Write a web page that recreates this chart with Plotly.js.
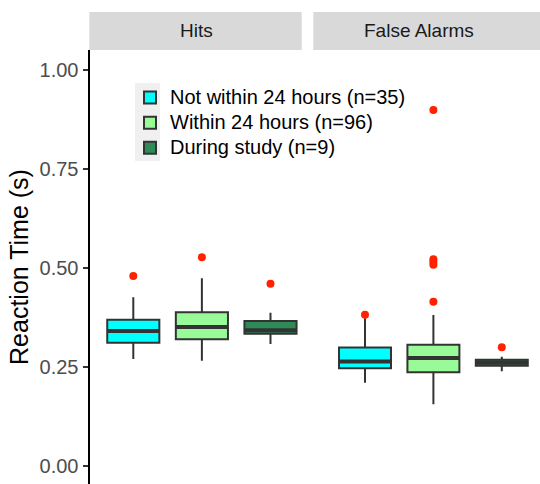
<!DOCTYPE html>
<html>
<head>
<meta charset="utf-8">
<script src="https://cdn.plot.ly/plotly-3.0.1.min.js"></script>
<style>html,body{margin:0;padding:0;background:#fff;}#chart{width:540px;height:484px;}</style>
</head>
<body>
<div id="chart"></div>
<script>
// ---- data ----
var groups = ["Not within 24 hours (n=35)", "Within 24 hours (n=96)", "During study (n=9)"];
var panels = ["Hits", "False Alarms"];
var yTicks = [0, 0.25, 0.5, 0.75, 1.0];
var yTickLabels = ["0.00", "0.25", "0.50", "0.75", "1.00"];

var hitsLower  = [0.270, 0.266, 0.308];
var hitsQ1     = [0.311, 0.320, 0.334];
var hitsMedian = [0.341, 0.351, 0.343];
var hitsQ3     = [0.369, 0.388, 0.366];
var hitsUpper  = [0.426, 0.474, 0.387];
var hitsOutliers = [[0.480], [0.527], [0.460]];

var faLower  = [0.210, 0.156, 0.239];
var faQ1     = [0.247, 0.237, 0.253];
var faMedian = [0.264, 0.273, 0.261];
var faQ3     = [0.299, 0.306, 0.268];
var faUpper  = [0.373, 0.381, 0.276];
var faOutliers = [[0.382], [0.899, 0.522, 0.515, 0.508, 0.415], [0.300]];

// ---- styling ----
var fills = ["#00FFFF", "#98FB98", "#2E8B57"];
var outline = "#333333";
var outlierColor = "#FF2200";
var boxW = 0.76;
var W = 540, H = 484, T = 50;
function px(x) { return x / W; }
function py(y) { return (H - y) / (H - T); }

var panelData = [
  {xa: "x",  lower: hitsLower, q1: hitsQ1, med: hitsMedian, q3: hitsQ3, upper: hitsUpper, out: hitsOutliers},
  {xa: "x2", lower: faLower, q1: faQ1, med: faMedian, q3: faQ3, upper: faUpper, out: faOutliers}
];

var traces = [];
panelData.forEach(function (p, pi) {
  groups.forEach(function (g, i) {
    traces.push({
      type: "box",
      name: '<span style="font-size:20px">' + g + '</span>',
      legendgroup: "g" + i,
      showlegend: pi === 0,
      x: [i + 1],
      q1: [p.q1[i]], median: [p.med[i]], q3: [p.q3[i]],
      lowerfence: [p.lower[i]], upperfence: [p.upper[i]],
      width: boxW,
      boxpoints: false,
      fillcolor: fills[i],
      line: {color: outline, width: 2},
      whiskerwidth: 0,
      xaxis: p.xa, yaxis: "y",
      hoverinfo: "skip"
    });
  });
});
// thicker median bars
panelData.forEach(function (p) {
  groups.forEach(function (g, i) {
    traces.push({
      type: "scatter", mode: "lines",
      x: [i + 1 - boxW / 2, i + 1 + boxW / 2], y: [p.med[i], p.med[i]],
      line: {color: outline, width: 4},
      showlegend: false, hoverinfo: "skip",
      xaxis: p.xa, yaxis: "y"
    });
  });
});
// outliers
panelData.forEach(function (p) {
  groups.forEach(function (g, i) {
    traces.push({
      type: "scatter", mode: "markers",
      x: p.out[i].map(function () { return i + 1; }), y: p.out[i],
      marker: {color: outlierColor, size: 8},
      showlegend: false, hoverinfo: "skip",
      xaxis: p.xa, yaxis: "y"
    });
  });
});

var hiddenX = {showline: false, showticklabels: false, ticks: "", showgrid: false, zeroline: false, fixedrange: true};

var layout = {
  width: W, height: H,
  margin: {l: 0, r: 0, t: T, b: 0, pad: 0},
  paper_bgcolor: "#ffffff", plot_bgcolor: "rgba(0,0,0,0)",
  showlegend: true,
  hovermode: false,
  font: {family: "Liberation Sans, Arial, sans-serif", color: "#000000"},
  xaxis: Object.assign({domain: [px(89.5), px(301.7)], range: [0.3615, 3.455], anchor: "y"}, hiddenX),
  xaxis2: Object.assign({domain: [px(313.3), 1], range: [0.2442, 3.5585], anchor: "y"}, hiddenX),
  yaxis: {
    range: [-0.0455, 1.0505], anchor: "x",
    showline: true, linecolor: "#000000", linewidth: 2,
    ticks: "outside", ticklen: 5, tickwidth: 2, tickcolor: "#333333",
    tickvals: yTicks, ticktext: yTickLabels,
    tickfont: {size: 20, color: "#4D4D4D"},
    showgrid: false, zeroline: false,
    title: {text: "Reaction Time (s)", font: {size: 25, color: "#000000"}, standoff: 4}
  },
  legend: {
    x: px(130), y: py(80), xanchor: "left", yanchor: "top",
    bgcolor: "rgba(0,0,0,0)", borderwidth: 0,
    font: {size: 17, color: "#000000"},
    tracegroupgap: 0, traceorder: "normal"
  },
  shapes: [
    {type: "rect", xref: "paper", yref: "paper", x0: px(89.3), x1: px(301.7), y0: py(50), y1: py(12), fillcolor: "#D9D9D9", line: {width: 0}, layer: "below"},
    {type: "rect", xref: "paper", yref: "paper", x0: px(313.3), x1: 1, y0: py(50), y1: py(12), fillcolor: "#D9D9D9", line: {width: 0}, layer: "below"},
    {type: "rect", xref: "paper", yref: "paper", x0: px(135), x1: px(160), y0: py(161), y1: py(83), fillcolor: "#F0F0F0", line: {width: 0}, layer: "below"}
  ],
  annotations: [
    {text: panels[0], xref: "paper", yref: "paper", x: px(196), y: py(31), xanchor: "center", yanchor: "middle", showarrow: false, font: {size: 19, color: "#1A1A1A"}},
    {text: panels[1], xref: "paper", yref: "paper", x: px(419), y: py(31), xanchor: "center", yanchor: "middle", showarrow: false, font: {size: 19, color: "#1A1A1A"}}
  ]
};

Plotly.newPlot("chart", traces, layout, {staticPlot: true, displayModeBar: false});
</script>
</body>
</html>
